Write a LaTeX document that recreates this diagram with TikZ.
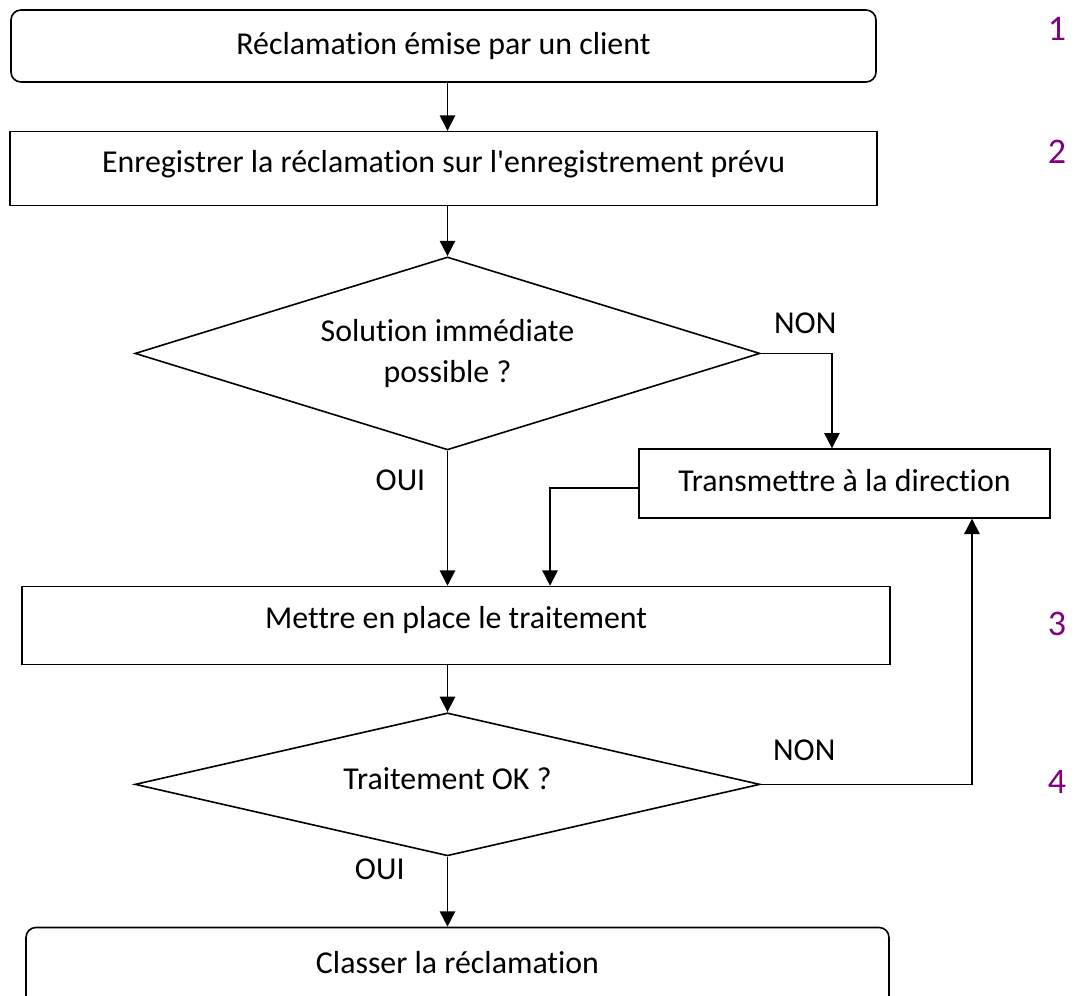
\documentclass[tikz,border=0pt]{standalone}
\usepackage{fontspec}
\setmainfont{Carlito}[Ligatures={NoCommon,TeXOff}]
\usetikzlibrary{arrows.meta,positioning,shapes.geometric}
\definecolor{markpurple}{RGB}{128,0,128}

\begin{document}
\begin{tikzpicture}[
  x=0.75pt, y=-0.75pt,
  font=\fontsize{23.9}{30.75}\selectfont,
  >={Triangle[width=11.5pt,length=11.5pt]},
  task/.style={
    draw,
    line width=1pt,
    inner sep=0pt,
    align=center
  },
  endpoint/.style={
    task,
    rounded corners=7.5pt,
    line width=1.2pt
  },
  decision/.style={
    draw,
    diamond,
    aspect=3.2,
    line width=1.2pt,
    inner sep=0pt,
    align=center
  },
  answer/.style={inner sep=0pt},
  marker/.style={
    inner sep=0pt,
    text=markpurple,
    font=\fontsize{27}{30}\selectfont
  },
  flow/.style={->,line width=1.3pt}
]
\clip (0,0) rectangle (1076,996);
\node[endpoint,minimum width=648.75pt,minimum height=54pt] (start) at (443.5,46) {R\'eclamation \'emise par un client};
\node[task,minimum width=650.25pt,minimum height=55.5pt,text depth=11pt,below=36pt of start] (record) {Enregistrer la r\'eclamation sur l'enregistrement pr\'evu};
\node[decision,minimum width=468.75pt,minimum height=144.75pt,below=37.5pt of record,xshift=3pt] (quick) {Solution imm\'ediate\\possible ?};
\node[task,minimum width=651pt,minimum height=58.5pt,text depth=12.5pt,below=101.25pt of quick,xshift=6.4pt] (treat) {Mettre en place le traitement};
\node[decision,minimum width=468.75pt,minimum height=107.25pt,text depth=9pt,below=35.25pt of treat,xshift=-6.4pt] (check) {Traitement OK ?};
\node[endpoint,minimum width=647.25pt,minimum height=60pt,text depth=7.5pt,below=52.5pt of check,xshift=7.5pt] (file) {Classer la r\'eclamation};
\node[task,minimum width=308.25pt,minimum height=51.75pt,text depth=4.5pt] (escalate) at (844.5,483.5) {Transmettre \`a la direction};
\draw[flow] (start.south -| quick) -- (record.north -| quick);
\draw[flow] (record.south -| quick) -- (quick.north);
\draw[flow] (quick.south) -- (quick.south |- treat.north);
\draw[flow] (treat.south -| check) -- (check.north);
\draw[flow] (check.south) -- (check.south |- file.north);
\draw[flow] (quick.east) -| ([xshift=-9.4pt]escalate.north);
\draw[flow] ([yshift=-3.4pt]escalate.west) -| ([xshift=70.5pt]treat.north);
\draw[flow] (check.east) -| ([xshift=95.6pt]escalate.south);
\node[answer,above right=14.8pt and 9.75pt of quick.east] {NON};
\node[answer,below left=14.25pt and 16.5pt of quick.south] {OUI};
\node[answer,above right=17.25pt and 9pt of check.east] {NON};
\node[answer,below left=1.5pt and 32pt of check.south] {OUI};
\node[marker] (m1) at (1057,29) {1};
\node[marker] (m2) at (1057,152) {2};
\node[marker] (m3) at (1057,624) {3};
\node[marker] (m4) at (1057,782) {4};
\end{tikzpicture}
\end{document}
